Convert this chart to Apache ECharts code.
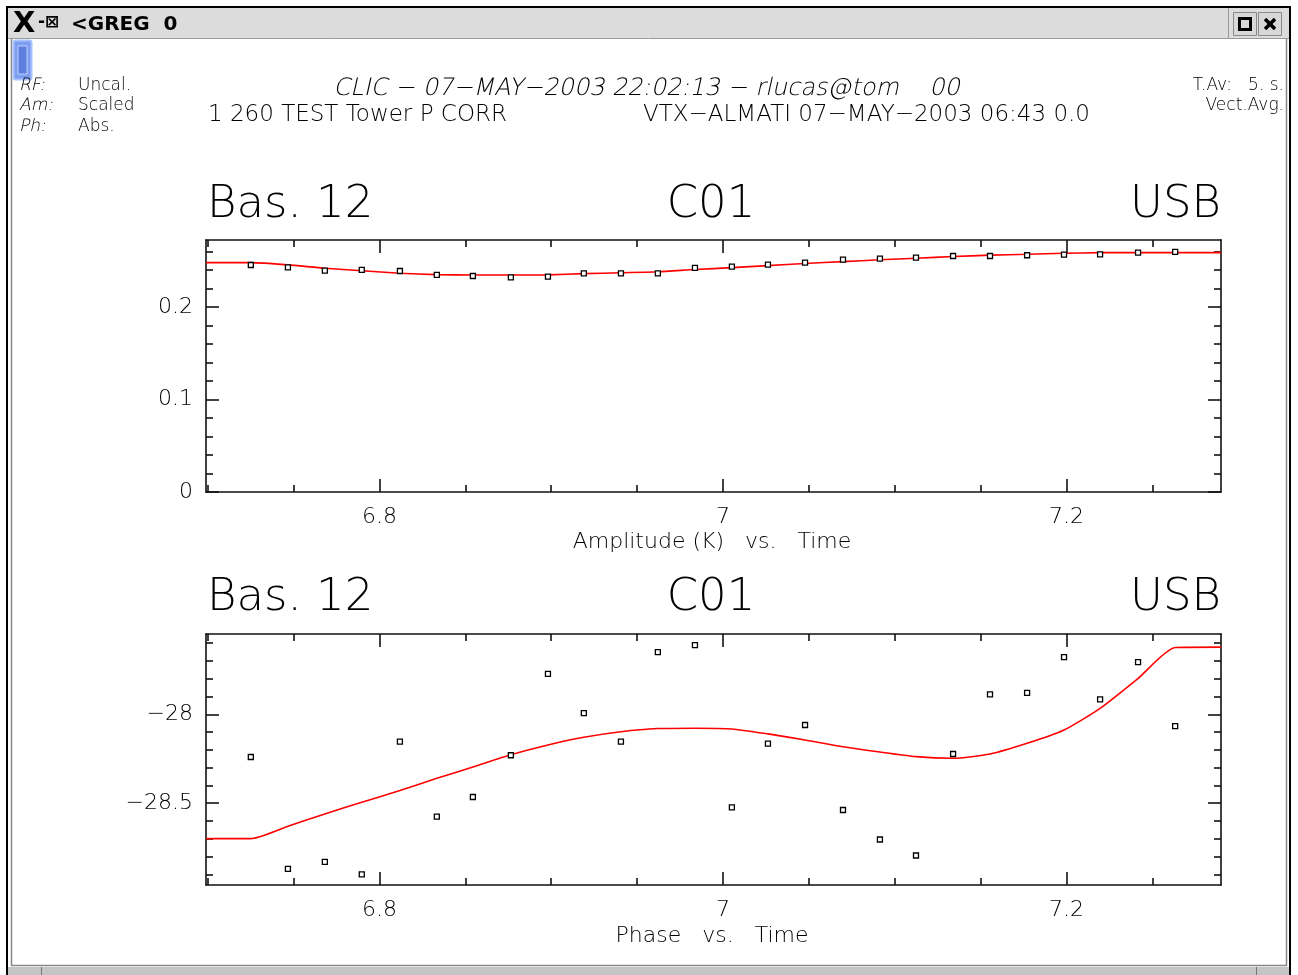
<!DOCTYPE html>
<html><head><meta charset="utf-8">
<script src="https://cdn.jsdelivr.net/npm/echarts@6/dist/echarts.min.js"></script>
<style>html,body{margin:0;padding:0;background:#fff;overflow:hidden}#c{width:1298px;height:975px}</style>
</head><body><div id="c"></div>
<script>
// ---- data (time in hours) ----
const time = [6.7251, 6.7467, 6.7682, 6.7897, 6.8119, 6.8334, 6.8544, 6.8765, 6.8981, 6.9190,
  6.9406, 6.9621, 6.9837, 7.0052, 7.0262, 7.0478, 7.0699, 7.0914, 7.1124, 7.1340,
  7.1555, 7.1771, 7.1986, 7.2196, 7.2417, 7.2633];
const amplitude = [0.2454, 0.2429, 0.2393, 0.2400, 0.2389, 0.2346, 0.2335, 0.2321, 0.2328, 0.2364,
  0.2364, 0.2364, 0.2422, 0.2436, 0.2457, 0.2479, 0.2511, 0.2522, 0.2533, 0.2551,
  0.2551, 0.2559, 0.2565, 0.2569, 0.2587, 0.2595];
const phase = [-28.240, -28.869, -28.830, -28.900, -28.154, -28.575, -28.465, -28.230, -27.772, -27.993,
  -28.154, -27.650, -27.611, -28.523, -28.165, -28.060, -28.538, -28.704, -28.794, -28.223,
  -27.888, -27.879, -27.678, -27.916, -27.706, -28.066];
const fitTime = [6.699, 6.7251, 6.7467, 6.7682, 6.7897, 6.8119, 6.8334, 6.8544, 6.8765, 6.8981,
  6.9190, 6.9406, 6.9621, 6.9837, 7.0052, 7.0262, 7.0478, 7.0699, 7.0914, 7.1124,
  7.1340, 7.1555, 7.1771, 7.1986, 7.2196, 7.2417, 7.2633, 7.290];
const ampFit = [0.2479, 0.2479, 0.2455, 0.2418, 0.2392, 0.2365, 0.2350, 0.2345, 0.2345, 0.2347,
  0.2360, 0.2370, 0.2380, 0.2405, 0.2425, 0.2447, 0.2470, 0.2490, 0.2510, 0.2527,
  0.2545, 0.2560, 0.2570, 0.2580, 0.2587, 0.2588, 0.2588, 0.2588];
const phaseFit = [-28.699, -28.699, -28.630, -28.560, -28.494, -28.429, -28.360, -28.296, -28.227, -28.172,
  -28.129, -28.098, -28.080, -28.078, -28.082, -28.110, -28.144, -28.182, -28.212, -28.238,
  -28.247, -28.223, -28.163, -28.088, -27.966, -27.798, -27.624, -27.622];

// ---- axes ----
const timeRange = [6.699, 7.290];
const ampRange = [0, 0.2724];
const phaseRange = [-28.960, -27.548];
const timeMajorTicks = [6.8, 7.0, 7.2];
const timeMinorTicks = [6.70, 6.75, 6.85, 6.90, 6.95, 7.05, 7.10, 7.15, 7.25];
const ampMajorTicks = [0, 0.1, 0.2];
const ampMinorTicks = [0.02, 0.04, 0.06, 0.08, 0.12, 0.14, 0.16, 0.18, 0.22, 0.24, 0.26];
const phaseMajorTicks = [-28.5, -28.0];
const phaseMinorTicks = [-28.9, -28.8, -28.7, -28.6, -28.4, -28.3, -28.2, -28.1, -27.9, -27.8, -27.7, -27.6];

const FONT = 'DejaVu Sans';
const fmt = v => String(+v.toFixed(4)).replace('-', '\u2212');

function axisSet(dim, grid, range, major, minor, labelPos) {
  const out = [];
  const sides = dim === 'x' ? ['bottom', 'top'] : ['left', 'right'];
  sides.forEach(side => {
    [true, false].forEach(isMajor => {
      out.push({
        type: 'value', gridIndex: grid, position: side,
        min: range[0], max: range[1],
        axisLine: {show: isMajor, onZero: false, lineStyle: {color: '#111', width: 1.6}},
        axisTick: {show: true, inside: true, length: isMajor ? 13 : 7,
          customValues: isMajor ? major : minor,
          lineStyle: {color: '#111', width: 1.6}},
        axisLabel: {show: isMajor && side === labelPos, customValues: major, formatter: fmt,
          margin: dim === 'x' ? 14 : 13, color: '#000', fontFamily: FONT, fontSize: 22, fontWeight: 200},
        splitLine: {show: false},
        minorTick: {show: false}
      });
    });
  });
  return out;
}

const xAxes = [].concat(
  axisSet('x', 0, timeRange, timeMajorTicks, timeMinorTicks, 'bottom'),
  axisSet('x', 1, timeRange, timeMajorTicks, timeMinorTicks, 'bottom'));
const yAxes = [].concat(
  axisSet('y', 0, ampRange, ampMajorTicks, ampMinorTicks, 'left'),
  axisSet('y', 1, phaseRange, phaseMajorTicks, phaseMinorTicks, 'left'));

function ftxt(x, y, s, font, align, italic) {
  const el = {type: 'text', x: x, y: y, silent: true,
    style: {text: s, fill: '#000', font: font, textAlign: align || 'left', textVerticalAlign: 'middle'}};
  if (italic) el.skewX = -0.22;
  return el;
}

const titleFont = '200 45px "DejaVu Sans"';
const midFont = '200 22px "DejaVu Sans"';
const hdrFont = '200 23px "DejaVu Sans"';
const smallFont = '200 17px "DejaVu Sans"';

const graphics = [
  // window frame
  {type: 'rect', shape: {x: 7, y: 7, width: 1283, height: 980}, style: {fill: '#fff', stroke: '#000', lineWidth: 2}, z: -10, silent: true},
  {type: 'rect', shape: {x: 8, y: 8, width: 1281, height: 30}, style: {fill: '#dcdcdc', stroke: null}, z: -9, silent: true},
  {type: 'line', shape: {x1: 8, y1: 38.5, x2: 1289, y2: 38.5}, style: {stroke: '#9a9a9a', lineWidth: 1}, silent: true},
  {type: 'line', shape: {x1: 1228.5, y1: 8, x2: 1228.5, y2: 38}, style: {stroke: '#9a9a9a', lineWidth: 1}, silent: true},
  {type: 'rect', shape: {x: 1233.5, y: 12.5, width: 23, height: 23}, style: {fill: '#d8d8d8', stroke: '#8a8a8a', lineWidth: 1}, silent: true},
  {type: 'rect', shape: {x: 1258.5, y: 12.5, width: 23, height: 23}, style: {fill: '#d8d8d8', stroke: '#8a8a8a', lineWidth: 1}, silent: true},
  {type: 'rect', shape: {x: 1239.5, y: 18.5, width: 11, height: 11}, style: {fill: null, stroke: '#000', lineWidth: 3}, silent: true},
  {type: 'line', shape: {x1: 1265, y1: 19, x2: 1275, y2: 29}, style: {stroke: '#000', lineWidth: 3.5}, silent: true},
  {type: 'line', shape: {x1: 1275, y1: 19, x2: 1265, y2: 29}, style: {stroke: '#000', lineWidth: 3.5}, silent: true},
  ftxt(13, 24, 'X', 'bold 29px "DejaVu Sans"'),
  ftxt(38, 23, '-\u22a0', 'bold 17px "DejaVu Sans"'),
  ftxt(71, 25, '<GREG  0', 'bold 20px "DejaVu Sans"'),
  {type: 'line', shape: {x1: 11.5, y1: 39, x2: 11.5, y2: 966}, style: {stroke: '#888', lineWidth: 1.5}, silent: true},
  {type: 'line', shape: {x1: 1286.5, y1: 39, x2: 1286.5, y2: 966}, style: {stroke: '#888', lineWidth: 1.5}, silent: true},
  {type: 'line', shape: {x1: 11, y1: 965.5, x2: 1287, y2: 965.5}, style: {stroke: '#888', lineWidth: 1.5}, silent: true},
  {type: 'rect', shape: {x: 8, y: 967, width: 1281, height: 10}, style: {fill: '#c4c4c4', stroke: null}, silent: true},
  {type: 'line', shape: {x1: 41.5, y1: 967, x2: 41.5, y2: 975}, style: {stroke: '#777', lineWidth: 1}, silent: true},
  {type: 'line', shape: {x1: 1256.5, y1: 967, x2: 1256.5, y2: 975}, style: {stroke: '#777', lineWidth: 1}, silent: true},
  {type: 'rect', shape: {x: 13.5, y: 40.5, width: 18, height: 39, r: 2}, style: {fill: '#7d9ef0', stroke: '#a9c2ff', lineWidth: 2}, silent: true},
  {type: 'rect', shape: {x: 18, y: 46, width: 9, height: 28}, style: {fill: '#5c7fe0', stroke: '#c0d2ff', lineWidth: 1}, silent: true},
  // header texts
  ftxt(20, 86, 'RF:', smallFont, 'left', true), ftxt(78, 86, 'Uncal.', smallFont),
  ftxt(20, 106, 'Am:', smallFont, 'left', true), ftxt(78, 106, 'Scaled', smallFont),
  ftxt(20, 127, 'Ph:', smallFont, 'left', true), ftxt(78, 127, 'Abs.', smallFont),
  ftxt(1284, 86, 'T.Av:   5. s.', smallFont, 'right'),
  ftxt(1284, 106, 'Vect.Avg.', smallFont, 'right'),
  ftxt(648, 89, 'CLIC \u2212 07\u2212MAY\u22122003 22:02:13 \u2212 rlucas@tom    00', '200 24px "DejaVu Sans"', 'center', true),
  ftxt(208, 115, '1 260 TEST Tower P CORR', hdrFont),
  ftxt(643, 115, 'VTX\u2212ALMATI 07\u2212MAY\u22122003 06:43 0.0', hdrFont),
  // panel titles
  ftxt(207, 205, 'Bas. 12', titleFont), ftxt(711, 205, 'C01', titleFont, 'center'), ftxt(1221, 205, 'USB', titleFont, 'right'),
  ftxt(207, 598, 'Bas. 12', titleFont), ftxt(711, 598, 'C01', titleFont, 'center'), ftxt(1221, 598, 'USB', titleFont, 'right'),
  ftxt(712, 542, 'Amplitude (K)   vs.   Time', midFont, 'center'),
  ftxt(712, 936, 'Phase   vs.   Time', midFont, 'center')
];

const pts = (xs, ys) => xs.map((x, i) => [x, ys[i]]);
const scatterStyle = {color: '#fff', borderColor: '#000', borderWidth: 1.3, opacity: 1};

const chart = echarts.init(document.getElementById('c'), null, {renderer: 'canvas'});
chart.setOption({
  animation: false,
  backgroundColor: '#fff',
  grid: [
    {left: 206, top: 240, width: 1015, height: 252, containLabel: false},
    {left: 206, top: 634, width: 1015, height: 251, containLabel: false}
  ],
  xAxis: xAxes,
  yAxis: yAxes,
  graphic: {elements: graphics},
  series: [
    {type: 'line', xAxisIndex: 0, yAxisIndex: 0, data: pts(fitTime, ampFit), showSymbol: false,
      smooth: 0.2,
      lineStyle: {color: '#ff0000', width: 1.6}, z: 2, silent: true},
    {type: 'scatter', xAxisIndex: 0, yAxisIndex: 0, data: pts(time, amplitude), symbol: 'rect', symbolSize: 5,
      itemStyle: scatterStyle, z: 3, silent: true},
    {type: 'line', xAxisIndex: 4, yAxisIndex: 4, data: pts(fitTime, phaseFit), showSymbol: false,
      smooth: 0.2,
      lineStyle: {color: '#ff0000', width: 1.6}, z: 2, silent: true},
    {type: 'scatter', xAxisIndex: 4, yAxisIndex: 4, data: pts(time, phase), symbol: 'rect', symbolSize: 5,
      itemStyle: scatterStyle, z: 3, silent: true}
  ]
});
</script></body></html>
